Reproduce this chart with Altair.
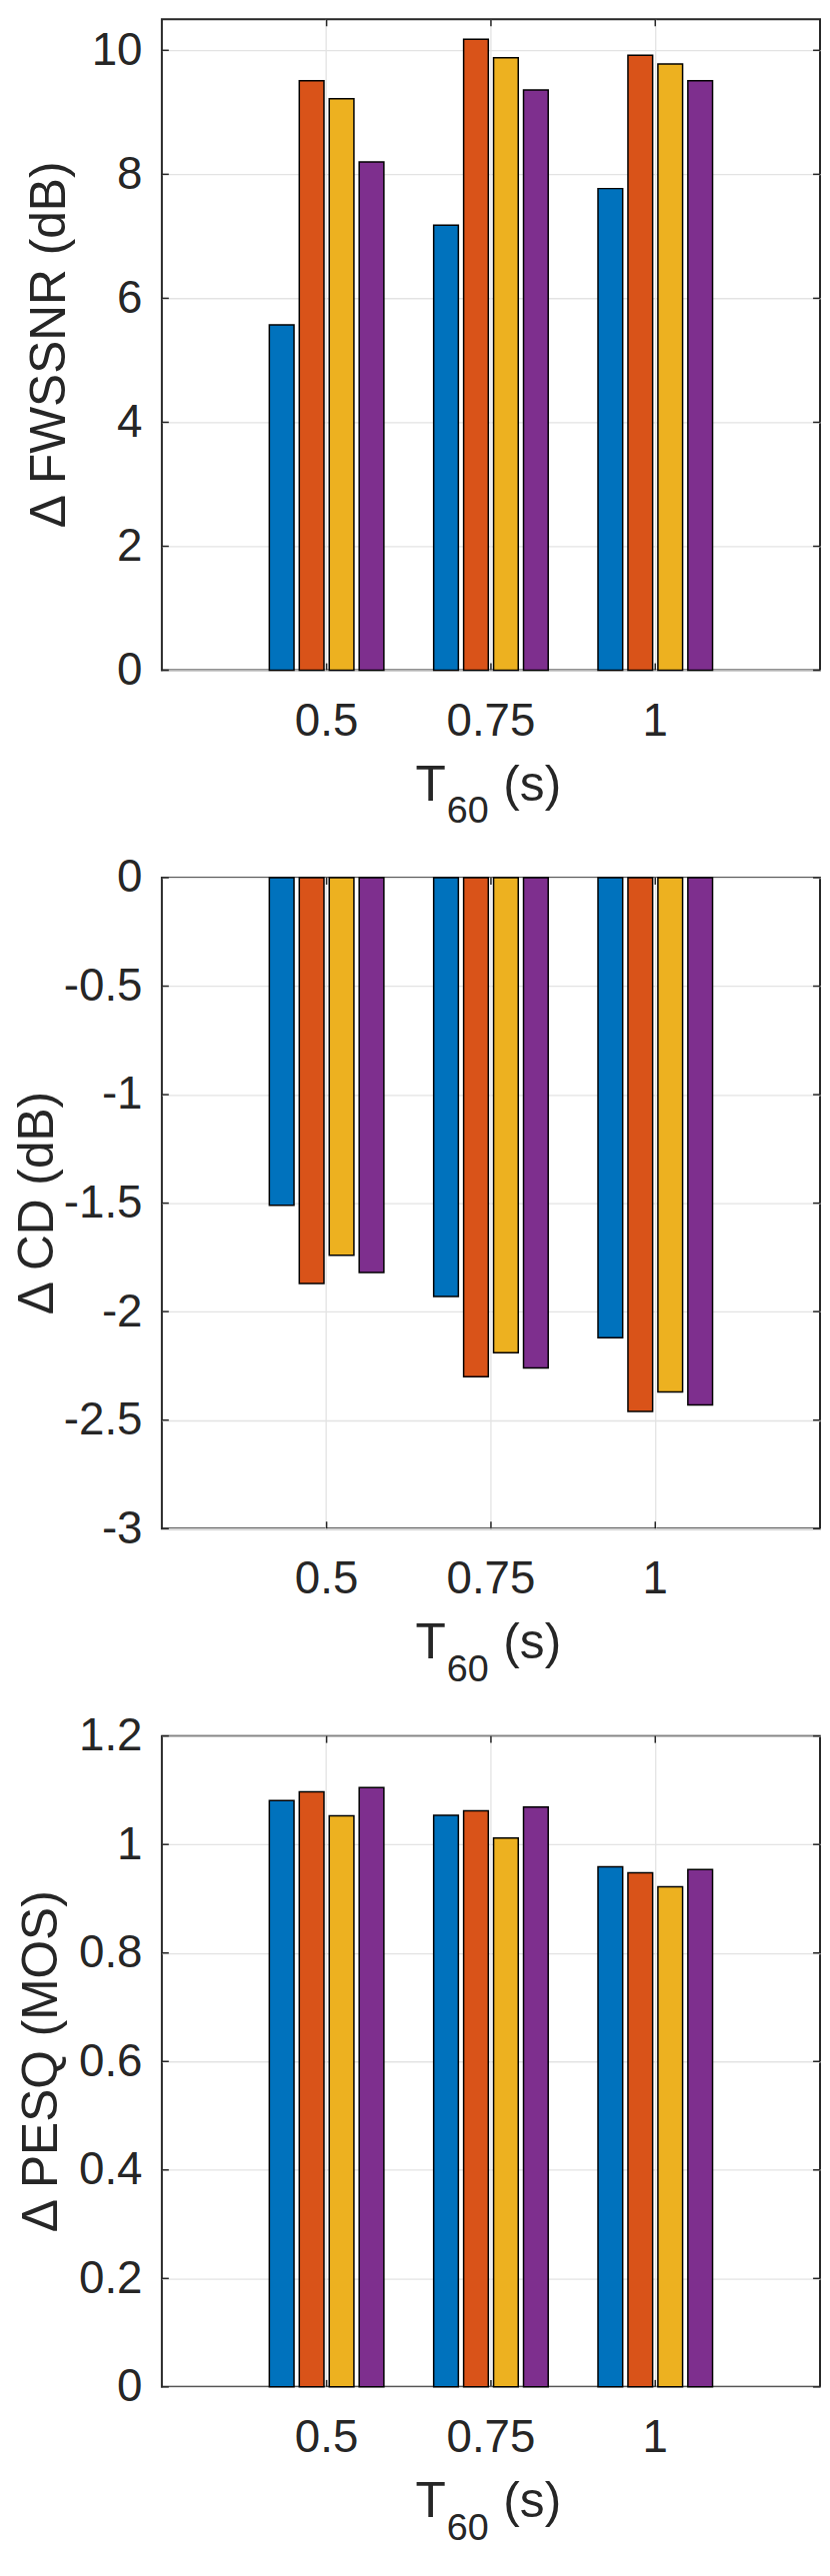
import altair as alt
import pandas as pd

# ---------------- data ----------------
t60 = ["0.5", "0.75", "1"]
methods = ["Method 1", "Method 2", "Method 3", "Method 4"]
colors = ["#0072BD", "#D95319", "#EDB120", "#7E2F8E"]

fwssnr_m1 = [5.57, 7.18, 7.77]
fwssnr_m2 = [9.51, 10.18, 9.92]
fwssnr_m3 = [9.22, 9.88, 9.78]
fwssnr_m4 = [8.20, 9.36, 9.51]

cd_m1 = [-1.51, -1.93, -2.12]
cd_m2 = [-1.87, -2.30, -2.46]
cd_m3 = [-1.74, -2.19, -2.37]
cd_m4 = [-1.82, -2.26, -2.43]

pesq_m1 = [1.081, 1.054, 0.959]
pesq_m2 = [1.097, 1.062, 0.948]
pesq_m3 = [1.053, 1.012, 0.922]
pesq_m4 = [1.105, 1.069, 0.954]

fwssnr_ticks = [0, 2, 4, 6, 8, 10]
cd_ticks = [-3, -2.5, -2, -1.5, -1, -0.5, 0]
pesq_ticks = [0, 0.2, 0.4, 0.6, 0.8, 1.0, 1.2]

ytitles = ["\u0394 FWSSNR (dB)", "\u0394 CD (dB)", "\u0394 PESQ (MOS)"]
xtitle_main = "T"
xtitle_sub = "60"
xtitle_unit = "(s)"

# ---------------- style ----------------
FONT = "Liberation Sans"
TXT = "#262626"
GRID = "#e3e3e3"
W = 663
H = 656
LEFT = -154  # common left extent of every panel


def panel(series, ytitle, ytitle_x, domain, ticks, fmt):
    rows = []
    for m, vals in zip(methods, series):
        for t, v in zip(t60, vals):
            rows.append({"t60": t, "method": m, "value": v})
    df = pd.DataFrame(rows)

    xscale = alt.Scale(domain=t60, paddingInner=0.303, paddingOuter=0.654)
    yscale = alt.Scale(domain=domain, nice=False, zero=False)
    label_expr = "replace(format(datum.value, '%s'), '\u2212', '-')" % fmt

    xaxis = alt.Axis(title=None, labelAngle=0, labelFontSize=46,
                     labelPadding=29, ticks=False, tickSize=0,
                     domain=False, grid=True, gridColor=GRID,
                     gridWidth=1.3, bandPosition=0.5,
                     labelFont=FONT, labelColor=TXT)
    yaxis = alt.Axis(title=None, values=ticks, labelExpr=label_expr,
                     labelFontSize=46, labelPadding=20, ticks=False,
                     tickSize=0, domain=False, grid=True,
                     gridColor=GRID, gridWidth=1.3,
                     labelFont=FONT, labelColor=TXT)

    bars = alt.Chart(df).mark_bar(stroke="black", strokeWidth=1.5).encode(
        x=alt.X("t60:N", scale=xscale, sort=t60, axis=xaxis),
        xOffset=alt.XOffset("method:N", sort=methods,
                            scale=alt.Scale(domain=methods, paddingInner=0.176,
                                            paddingOuter=0)),
        y=alt.Y("value:Q", scale=yscale, axis=yaxis),
        color=alt.Color("method:N", scale=alt.Scale(domain=methods, range=colors),
                        legend=None),
    )

    ydf = pd.DataFrame({"value": ticks})
    xdf = pd.DataFrame({"t60": t60})
    tick_style = dict(color=TXT, strokeWidth=1.5)
    yl = alt.Chart(ydf).mark_rule(**tick_style).encode(
        y=alt.Y("value:Q", scale=yscale, axis=yaxis), x=alt.value(0), x2=alt.value(7))
    yr = alt.Chart(ydf).mark_rule(**tick_style).encode(
        y=alt.Y("value:Q", scale=yscale, axis=yaxis), x=alt.value(W - 7), x2=alt.value(W))
    xb = alt.Chart(xdf).mark_rule(**tick_style).encode(
        x=alt.X("t60:N", scale=xscale, sort=t60, axis=xaxis),
        y=alt.value(H - 7), y2=alt.value(H))
    xt = alt.Chart(xdf).mark_rule(**tick_style).encode(
        x=alt.X("t60:N", scale=xscale, sort=t60, axis=xaxis),
        y=alt.value(0), y2=alt.value(7))
    spacer = alt.Chart(xdf.head(1)).mark_rule(strokeOpacity=0, strokeWidth=0.01).encode(
        x=alt.value(LEFT), x2=alt.value(LEFT), y=alt.value(H / 2), y2=alt.value(H / 2 + 1))

    cx = W / 2
    t_y = alt.Chart(pd.DataFrame({"s": [ytitle]})).mark_text(
        angle=270, align="center", baseline="alphabetic", fontSize=50,
        font=FONT, color=TXT
    ).encode(text="s:N", x=alt.value(ytitle_x), y=alt.value(H / 2))
    t_main = alt.Chart(pd.DataFrame({"s": [xtitle_main]})).mark_text(
        align="right", baseline="alphabetic", fontSize=50, font=FONT, color=TXT
    ).encode(text="s:N", x=alt.value(cx - 45.5), y=alt.value(H + 131))
    t_sub = alt.Chart(pd.DataFrame({"s": [xtitle_sub]})).mark_text(
        align="left", baseline="alphabetic", fontSize=38, font=FONT, color=TXT
    ).encode(text="s:N", x=alt.value(cx - 44.5), y=alt.value(H + 154))
    t_unit = alt.Chart(pd.DataFrame({"s": [xtitle_unit]})).mark_text(
        align="left", baseline="alphabetic", fontSize=50, font=FONT, color=TXT
    ).encode(text="s:N", x=alt.value(cx + 12.5), y=alt.value(H + 131))

    return alt.layer(bars, yl, yr, xb, xt, spacer, t_y, t_main, t_sub,
                     t_unit).properties(width=W, height=H)


p1 = panel([fwssnr_m1, fwssnr_m2, fwssnr_m3, fwssnr_m4], ytitles[0], -98,
           [0, 10.5], fwssnr_ticks, ".1~f")
p2 = panel([cd_m1, cd_m2, cd_m3, cd_m4], ytitles[1], -110,
           [-3, 0], cd_ticks, ".1~f")
p3 = panel([pesq_m1, pesq_m2, pesq_m3, pesq_m4], ytitles[2], -106,
           [0, 1.2], pesq_ticks, ".1~f")

chart = alt.vconcat(p1, p2, p3, spacing=209, bounds="flush").properties(
    padding=0
).configure_view(stroke=TXT, strokeWidth=2)

chart.save("out.html", embed_options={"renderer": "svg", "actions": False})
